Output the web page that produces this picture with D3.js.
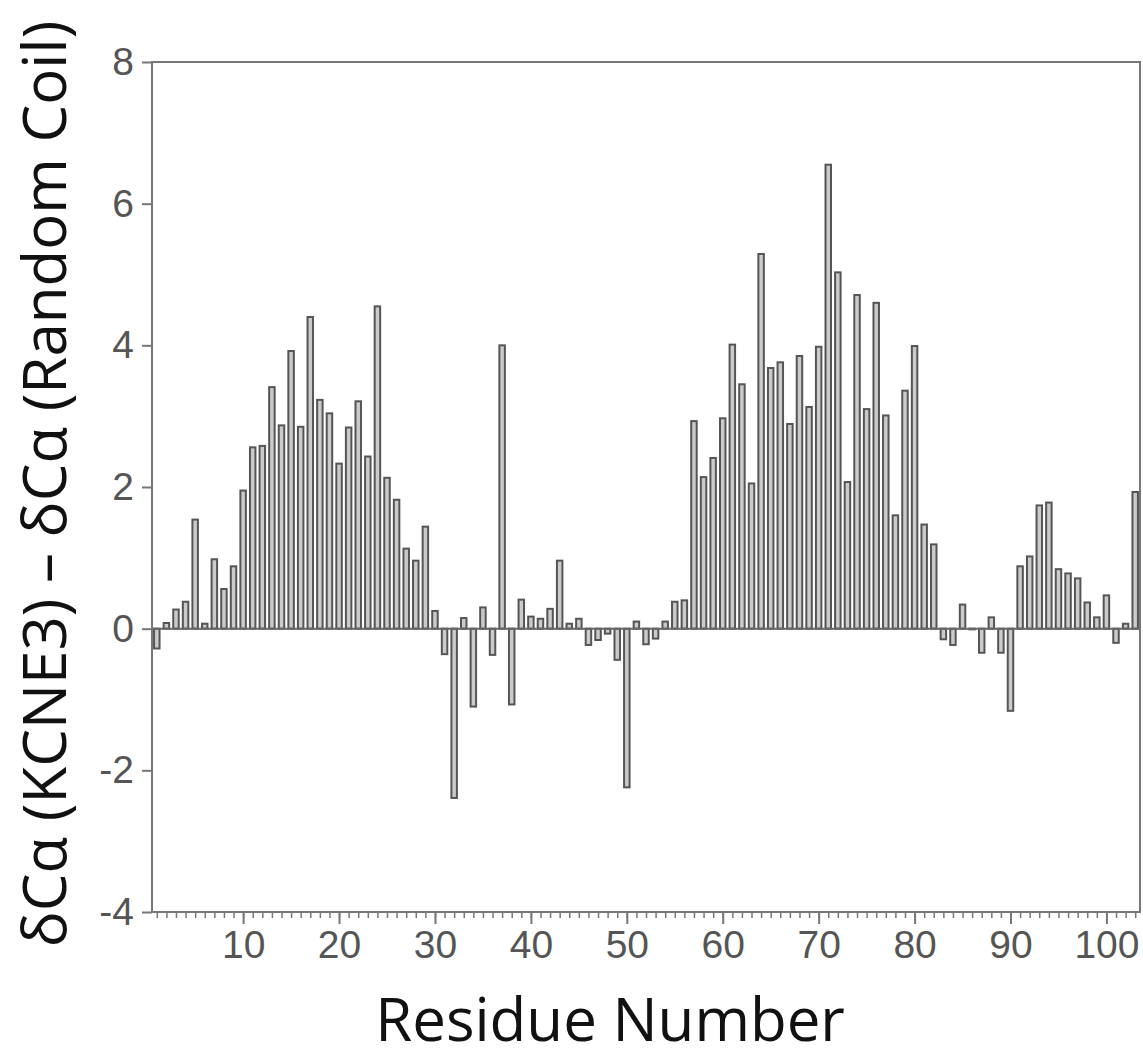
<!DOCTYPE html>
<html>
<head>
<meta charset="utf-8">
<script src="https://cdn.jsdelivr.net/npm/d3@7"></script>
<style>
  body { margin: 0; background: #fff; }
  .tick text { font-family: "Liberation Sans", Arial, sans-serif; fill: #555; }
  .axis-title { font-family: "Open Sans", sans-serif; fill: #111; }
</style>
</head>
<body>
<div id="chart"></div>
<script>
// chemical shift differences per residue (1..103)
const shiftValues = [
  -0.28, 0.08, 0.27, 0.38, 1.54, 0.07, 0.98, 0.56, 0.88, 1.95,
   2.56, 2.58, 3.41, 2.87, 3.92, 2.85, 4.40, 3.23, 3.04, 2.33,
   2.84, 3.21, 2.43, 4.55, 2.13, 1.82, 1.13, 0.96, 1.44, 0.25,
  -0.36, -2.39, 0.15, -1.10, 0.30, -0.37, 4.00, -1.07, 0.41, 0.17,
   0.14, 0.28, 0.96, 0.07, 0.14, -0.23, -0.16, -0.07, -0.44, -2.24,
   0.10, -0.22, -0.14, 0.10, 0.38, 0.40, 2.93, 2.14, 2.41, 2.97,
   4.01, 3.45, 2.05, 5.29, 3.68, 3.76, 2.89, 3.85, 3.13, 3.98,
   6.55, 5.03, 2.07, 4.71, 3.10, 4.60, 3.01, 1.60, 3.36, 3.99,
   1.47, 1.19, -0.15, -0.23, 0.34, -0.01, -0.34, 0.16, -0.34, -1.16,
   0.88, 1.02, 1.74, 1.78, 0.84, 0.78, 0.71, 0.37, 0.16, 0.47,
  -0.20, 0.07, 1.93
];
const residues = shiftValues.map((v, i) => i + 1);
const yTickValues = [-4, -2, 0, 2, 4, 6, 8];
const xMajorTicks = [10, 20, 30, 40, 50, 60, 70, 80, 90, 100];
const xTitle = "Residue Number";
const yTitle = "δCα (KCNE3) – δCα (Random Coil)";

const width = 1143;
const height = 1059;
const margin = { top: 62, right: 3, bottom: 147, left: 152 };

const svg = d3.select("#chart").append("svg")
    .attr("width", width)
    .attr("height", height);

const x = d3.scaleLinear()
    .domain([0.5, residues.length + 0.5])
    .range([margin.left, width - margin.right]);

const y = d3.scaleLinear()
    .domain([-4, 8])
    .range([height - margin.bottom, margin.top]);

const step = x(2) - x(1);
const barW = step * 0.78;

// bars
svg.append("g")
    .selectAll("rect")
    .data(residues)
    .enter()
    .append("rect")
    .attr("x", d => x(d) - barW / 2 + 1)
    .attr("width", barW - 2)
    .attr("y", d => y(Math.max(0, shiftValues[d - 1])))
    .attr("height", d => Math.abs(y(shiftValues[d - 1]) - y(0)))
    .attr("fill", "#cbcbcb")
    .attr("stroke", "#555")
    .attr("stroke-width", 2);

// zero line
svg.append("line")
    .attr("x1", x.range()[0])
    .attr("x2", x.range()[1])
    .attr("y1", y(0))
    .attr("y2", y(0))
    .attr("stroke", "#666")
    .attr("stroke-width", 2);

// frame
svg.append("rect")
    .attr("x", x.range()[0])
    .attr("y", y(8))
    .attr("width", x.range()[1] - x.range()[0])
    .attr("height", y(-4) - y(8))
    .attr("fill", "none")
    .attr("stroke", "#777")
    .attr("stroke-width", 2);

// minor x ticks
svg.append("g")
    .attr("transform", `translate(0, ${y(-4)})`)
    .call(d3.axisBottom(x).tickValues(residues).tickSize(6).tickFormat(""))
    .call(g => g.select(".domain").remove())
    .call(g => g.selectAll(".tick line").attr("stroke", "#777").attr("stroke-width", 1.5));

// major x ticks
svg.append("g")
    .attr("transform", `translate(0, ${y(-4)})`)
    .call(d3.axisBottom(x).tickValues(xMajorTicks).tickSize(12).tickPadding(6))
    .call(g => g.select(".domain").remove())
    .call(g => g.selectAll(".tick line").attr("stroke", "#777").attr("stroke-width", 2))
    .call(g => g.selectAll(".tick text").style("font-size", "39px"));

// y axis
svg.append("g")
    .attr("transform", `translate(${x.range()[0]}, 0)`)
    .call(d3.axisLeft(y).tickValues(yTickValues).tickSize(10).tickPadding(8)
        .tickFormat(d => String(d)))
    .call(g => g.select(".domain").remove())
    .call(g => g.selectAll(".tick line").attr("stroke", "#777").attr("stroke-width", 2))
    .call(g => g.selectAll(".tick text").style("font-size", "39px"));

// axis titles
svg.append("text")
    .attr("class", "axis-title")
    .attr("x", 610)
    .attr("y", 1041)
    .attr("text-anchor", "middle")
    .style("font-size", "60px")
    .text(xTitle);

svg.append("text")
    .attr("class", "axis-title")
    .attr("transform", `translate(66, ${(y(8) + y(-4)) / 2 - 3}) rotate(-90)`)
    .attr("text-anchor", "middle")
    .style("font-size", "60px")
    .text(yTitle);
</script>
</body>
</html>
